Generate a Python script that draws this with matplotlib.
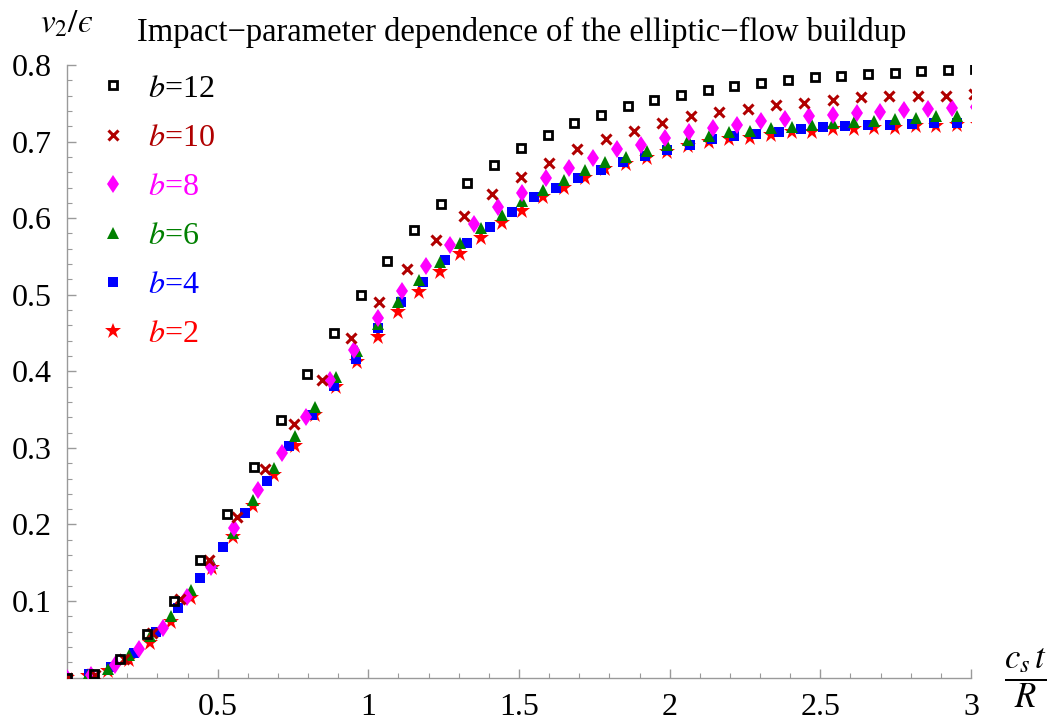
import numpy as np
import matplotlib
matplotlib.use("Agg")
import matplotlib.pyplot as plt
from matplotlib.lines import Line2D

plt.rcParams['font.family'] = ['Liberation Serif', 'DejaVu Serif']
plt.rcParams['mathtext.fontset'] = 'stix'

# impact parameters and the time step (in units of c_s t / R) of each run
impact = [12, 10, 8, 6, 4, 2]
step_b12 = 0.0886
step_b10 = 0.0941
step_b8 = 0.0794
step_b6 = 0.0687
step_b4 = 0.0738
step_b2 = 0.0687

# v2/epsilon at successive time steps
v_b12 = [0.0, 0.005, 0.024, 0.057, 0.100, 0.153, 0.214, 0.275, 0.336, 0.397,
         0.450, 0.500, 0.544, 0.584, 0.618, 0.646, 0.670, 0.692, 0.708, 0.724,
         0.735, 0.746, 0.754, 0.761, 0.768, 0.773, 0.777, 0.781, 0.784, 0.786,
         0.788, 0.790, 0.792, 0.793, 0.795]
v_b10 = [0.0, 0.004, 0.024, 0.058, 0.103, 0.154, 0.210, 0.272, 0.331, 0.389,
         0.443, 0.490, 0.533, 0.571, 0.603, 0.631, 0.654, 0.672, 0.690, 0.704,
         0.714, 0.724, 0.733, 0.738, 0.743, 0.748, 0.751, 0.754, 0.758, 0.759,
         0.760, 0.760, 0.762]
v_b8 = [0.0, 0.004, 0.016, 0.038, 0.065, 0.105, 0.145, 0.195, 0.245, 0.293,
        0.340, 0.389, 0.428, 0.470, 0.505, 0.537, 0.565, 0.592, 0.615, 0.633,
        0.652, 0.666, 0.678, 0.690, 0.696, 0.705, 0.712, 0.718, 0.722, 0.727,
        0.730, 0.733, 0.735, 0.737, 0.739, 0.741, 0.743, 0.744, 0.745]
v_b6 = [0.0, 0.003, 0.011, 0.030, 0.054, 0.081, 0.114, 0.150, 0.189, 0.232,
        0.274, 0.315, 0.354, 0.393, 0.426, 0.462, 0.490, 0.519, 0.543, 0.568,
        0.587, 0.604, 0.622, 0.637, 0.650, 0.663, 0.673, 0.680, 0.688, 0.696,
        0.702, 0.707, 0.712, 0.714, 0.718, 0.719, 0.721, 0.724, 0.725, 0.727,
        0.729, 0.731, 0.733, 0.733, 0.734]
v_b4 = [0.0, 0.005, 0.014, 0.032, 0.059, 0.091, 0.130, 0.171, 0.215, 0.257,
        0.302, 0.343, 0.381, 0.416, 0.457, 0.490, 0.517, 0.546, 0.568, 0.589,
        0.608, 0.627, 0.640, 0.653, 0.663, 0.673, 0.681, 0.689, 0.696, 0.704,
        0.707, 0.710, 0.713, 0.717, 0.719, 0.720, 0.721, 0.722, 0.723, 0.724,
        0.724, 0.725]
v_b2 = [0.0, 0.002, 0.008, 0.023, 0.045, 0.073, 0.104, 0.143, 0.183, 0.224,
        0.264, 0.302, 0.343, 0.380, 0.412, 0.445, 0.477, 0.504, 0.530, 0.553,
        0.574, 0.594, 0.609, 0.628, 0.640, 0.653, 0.664, 0.671, 0.679, 0.687,
        0.694, 0.699, 0.703, 0.705, 0.709, 0.712, 0.713, 0.716, 0.717, 0.718,
        0.718, 0.720, 0.720, 0.721, 0.722]

x_ticks = [0.5, 1, 1.5, 2, 2.5, 3]
x_ticklabels = ['0.5', '1', '1.5', '2', '2.5', '3']
y_ticks = [0.1, 0.2, 0.3, 0.4, 0.5, 0.6, 0.7, 0.8]
y_ticklabels = ['0.1', '0.2', '0.3', '0.4', '0.5', '0.6', '0.7', '0.8']

series = {
    12: (v_b12, step_b12, dict(marker='s', ms=5.4, mew=2.0, mec='black', mfc='none'), 'black'),
    10: (v_b10, step_b10, dict(marker='x', ms=7.0, mew=2.2, mec='#b00000'), '#b00000'),
    8: (v_b8, step_b8, dict(marker='d', ms=9.5, mew=0, mfc='#ff00ff'), '#ff00ff'),
    6: (v_b6, step_b6, dict(marker='^', ms=8.0, mew=0, mfc='#008000'), '#008000'),
    4: (v_b4, step_b4, dict(marker='s', ms=7.2, mew=0, mfc='#0000ff'), '#0000ff'),
    2: (v_b2, step_b2, dict(marker='*', ms=12.0, mew=0, mfc='#ff0000'), '#ff0000'),
}

fig = plt.figure(figsize=(10.5, 7.25), dpi=100)
ax = fig.add_axes([67 / 1050, (725 - 677.6) / 725, 904 / 1050, 612.6 / 725])

# smallest b ends up underneath, b=12 on top
for b in sorted(impact):
    vals, dt, style, _ = series[b]
    t = np.arange(len(vals)) * dt
    ax.plot(t, vals, linestyle='none', clip_on=True, zorder=3 + b / 12, **style)

ax.set_xlim(0, 3)
ax.set_ylim(0, 0.8)

axis_grey = '#9a9a9a'
for side in ('top', 'right'):
    ax.spines[side].set_visible(False)
for side in ('left', 'bottom'):
    ax.spines[side].set_color(axis_grey)
    ax.spines[side].set_linewidth(1.0)

ax.set_xticks(x_ticks)
ax.set_xticklabels(x_ticklabels)
ax.set_xticks(np.round(np.arange(0.1, 3.0, 0.1), 2), minor=True)
ax.set_yticks(y_ticks)
ax.set_yticklabels(y_ticklabels)
ax.set_yticks(np.round(np.arange(0.02, 0.8, 0.02), 2), minor=True)

ax.tick_params(which='major', direction='in', length=6.5, width=1.0, color=axis_grey,
               labelsize=23, labelcolor='black')
ax.tick_params(which='minor', direction='in', length=3.5, width=0.8, color=axis_grey)
ax.tick_params(axis='x', which='major', pad=11)
ax.tick_params(axis='y', which='major', pad=11)

# legend
handles = []
labels = []
text_colors = []
for b in impact:
    vals, dt, style, col = series[b]
    handles.append(Line2D([], [], linestyle='none', **style))
    labels.append(r'$b$=%d' % b)
    text_colors.append(col)
ax.legend(handles, labels, loc='upper left', bbox_to_anchor=(0.0387, 0.985),
          frameon=False, fontsize=23, handlelength=0.7, handletextpad=0.75,
          labelspacing=0.62, borderpad=0, borderaxespad=0, numpoints=1,
          labelcolor=text_colors)

fig.text(137 / 1050, 1 - 41 / 725,
         'Impact\u2212parameter dependence of the elliptic\u2212flow buildup',
         fontsize=23.5, ha='left', va='baseline')
fig.text(67 / 1050, 1 - 24 / 725, '$v_2/\u03f5$', fontsize=24, ha='center', va='center')
fig.text(1025 / 1050, 1 - 678 / 725, r'$\dfrac{c_s\,t}{R}$', fontsize=25, ha='center', va='center')

fig.savefig('out.png', dpi=100, facecolor='white')
